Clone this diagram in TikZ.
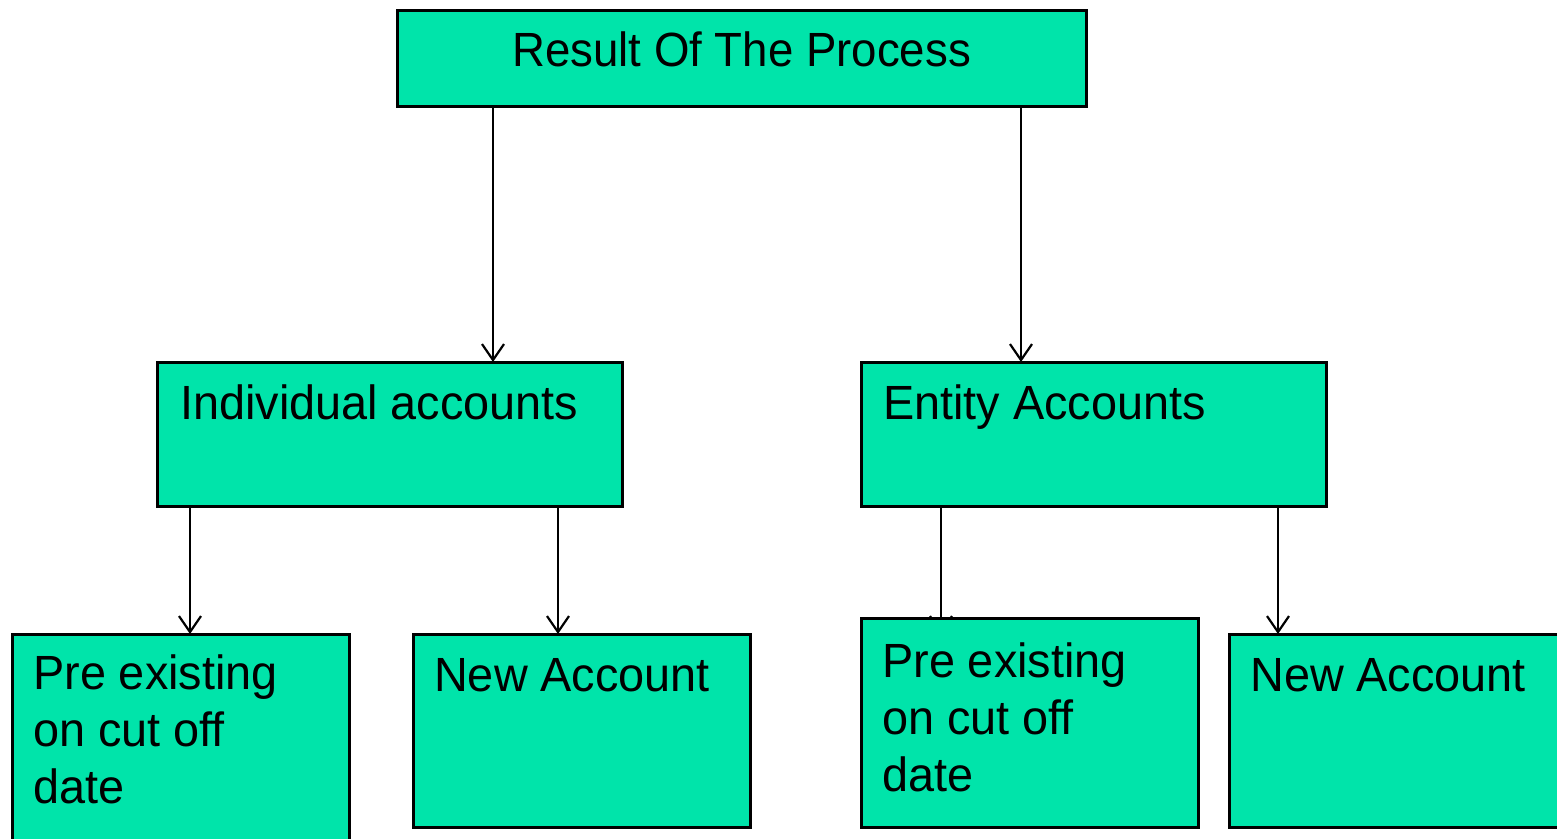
\documentclass[tikz,border=0pt]{standalone}
\usepackage{fontspec}
\setmainfont[FakeStretch=0.975]{Liberation Sans}
\newfontfamily\titlefont[FakeStretch=0.95]{Liberation Sans}
\usetikzlibrary{arrows.meta,backgrounds}
\definecolor{boxgreen}{RGB}{0,228,170}
\tikzset{box/.style = {draw, fill=boxgreen, line width=3pt, rectangle, anchor=north west, outer sep=0pt, inner sep=0pt, minimum width=337pt, minimum height=209pt},
         txt/.style = {anchor=north west, align=left, inner sep=0pt, font=\fontsize{48}{57}\selectfont},
         arr/.style = {line width=2.2pt, -{Straight Barb[length=16pt,width=22pt,line width=2.2pt]}}}

\begin{document}
\begin{tikzpicture}[x=1pt,y=-1pt]
        \useasboundingbox (0,0) rectangle (1557,838);
        \clip (0,0) rectangle (1557,838);

        % top level
        \node[box, minimum width=689pt, minimum height=96pt, text depth=17pt, font=\titlefont\fontsize{48}{57}\selectfont] (result) at (397,10) {Result Of The Process};

        % second level
        \node[box, minimum width=465pt, minimum height=144pt, label={[txt, xshift=23pt, yshift=-23pt]north west:Individual accounts}] (indiv) at (157,362) {};
        \node[box, minimum width=465pt, minimum height=144pt, label={[txt, xshift=22pt, yshift=-23pt]north west:Entity Accounts}] (entity) at (861,362) {};

        % third level
        \node[box, minimum height=215pt, label={[txt, xshift=21pt, yshift=-21pt]north west:{Pre existing\\on cut off\\date}}] (preind) at (12,634) {};
        \node[box, minimum height=193pt, label={[txt, xshift=21pt, yshift=-24pt]north west:New Account}] (newind) at (413,634) {};
        \node[box, label={[txt, xshift=21pt, yshift=-25pt]north west:{Pre existing\\on cut off\\date}}] (preent) at (861,618) {};
        \node[box, minimum height=193pt, label={[txt, xshift=21pt, yshift=-24pt]north west:New Account}] (newent) at (1229,634) {};

        \coordinate (r1) at ([xshift=96pt]result.south west);
        \coordinate (r2) at ([xshift=624pt]result.south west);
        \coordinate (i1) at ([xshift=33pt]indiv.south west);
        \coordinate (i2) at ([xshift=401pt]indiv.south west);
        \coordinate (e1) at ([xshift=80pt]entity.south west);
        \coordinate (e2) at ([xshift=417pt]entity.south west);

        \begin{scope}[on background layer]
            \draw[arr] (r1) -- (r1 |- indiv.north);
            \draw[arr] (r2) -- (r2 |- entity.north);
            \draw[arr] (i1) -- (i1 |- preind.north);
            \draw[arr] (i2) -- (i2 |- newind.north);
            \draw[arr, shorten >=-16pt] (e1) -- (e1 |- preent.north);
            \draw[arr] (e2) -- (e2 |- newent.north);
        \end{scope}
    \end{tikzpicture}
\end{document}
